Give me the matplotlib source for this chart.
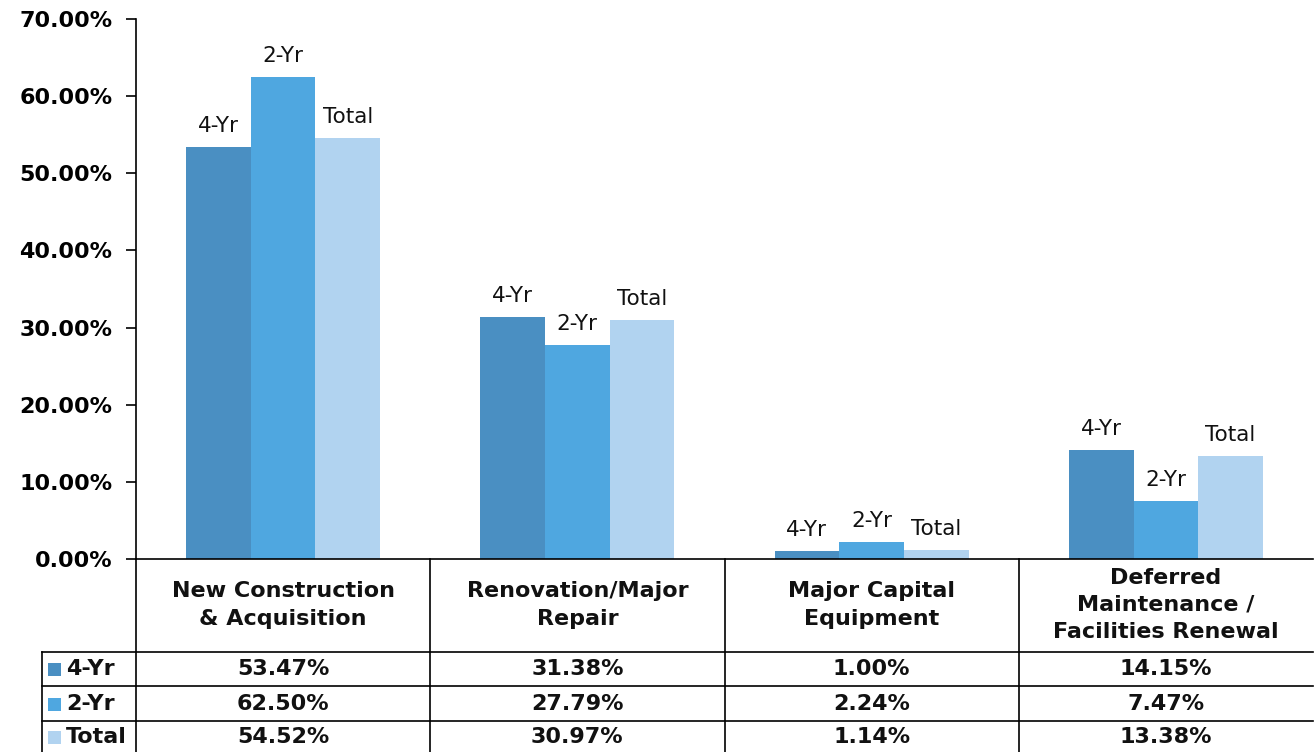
import numpy as np
import matplotlib.pyplot as plt
from matplotlib.patches import Rectangle

categories = ["New Construction\n& Acquisition", "Renovation/Major\nRepair",
              "Major Capital\nEquipment", "Deferred\nMaintenance /\nFacilities Renewal"]
series = ["4-Yr", "2-Yr", "Total"]
vals_4yr = [53.47, 31.38, 1.00, 14.15]
vals_2yr = [62.50, 27.79, 2.24, 7.47]
vals_total = [54.52, 30.97, 1.14, 13.38]
colors = ["#4A8FC2", "#4FA7E0", "#B1D3F0"]
yticks = [0, 10, 20, 30, 40, 50, 60, 70]

W, H = 1315, 752
fig = plt.figure(figsize=(W / 100, H / 100), dpi=100)
plt.rcParams['font.family'] = ['DejaVu Sans']

# chart area
ax = fig.add_axes([136 / W, (H - 559) / H, (1313 - 136) / W, (559 - 19) / H])
x = np.arange(len(categories))
bw = 0.22
data = [vals_4yr, vals_2yr, vals_total]
for k, (name, vals) in enumerate(zip(series, data)):
    bars = ax.bar(x + (k - 1) * bw, vals, bw, color=colors[k], linewidth=0)
    for b in bars:
        ax.annotate(name, (b.get_x() + b.get_width() / 2, b.get_height()),
                    xytext=(0, 21), textcoords='offset pixels',
                    ha='center', va='center', fontsize=15.5, color='#111111')

ax.set_xlim(-0.5, 3.5)
ax.set_ylim(0, 70)
ax.set_yticks(yticks)
ax.set_yticklabels([f"{v:.2f}%" for v in yticks], fontsize=16, fontweight='bold')
ax.tick_params(axis='y', length=7, width=1.2, pad=10)
ax.set_xticks([])
for s in ['top', 'right']:
    ax.spines[s].set_visible(False)
ax.spines['left'].set_linewidth(1.2)
ax.spines['bottom'].set_linewidth(1.2)

# data table under the chart
tax = fig.add_axes([136 / W, 0, (1313 - 136) / W, (H - 559) / H])
tax.set_xlim(-0.5, 3.5)
tax.set_ylim(752, 559)
tax.axis('off')
px = 4 / (1313 - 136)
xl = -0.5 - (136 - 42) * px
lw = 1.2
for xv in [0.5, 1.5, 2.5]:
    tax.plot([xv, xv], [559, 752], color='black', lw=lw, clip_on=False)
tax.plot([-0.5, -0.5], [559, 752], color='black', lw=lw, clip_on=False)
tax.plot([xl, xl], [652, 752], color='black', lw=lw, clip_on=False)
for yv in [652, 686, 721]:
    tax.plot([xl, 3.5], [yv, yv], color='black', lw=lw, clip_on=False)

for i, cat in enumerate(categories):
    tax.text(i, 605, cat, ha='center', va='center', fontsize=16, fontweight='bold',
             linespacing=1.45, color='#111111')

row_y = [669, 704, 737]
for k, (name, vals) in enumerate(zip(series, data)):
    tax.add_patch(Rectangle((xl + 6 * px, row_y[k] - 6.5), 13 * px, 13,
                            color=colors[k], clip_on=False, lw=0))
    tax.text(xl + 24 * px, row_y[k], name, ha='left', va='center', fontsize=16,
             fontweight='bold', color='#111111', clip_on=False)
    for i, v in enumerate(vals):
        tax.text(i, row_y[k], f"{v:.2f}%", ha='center', va='center', fontsize=16,
                 fontweight='bold', color='#111111')

fig.savefig("out.png", dpi=100)
